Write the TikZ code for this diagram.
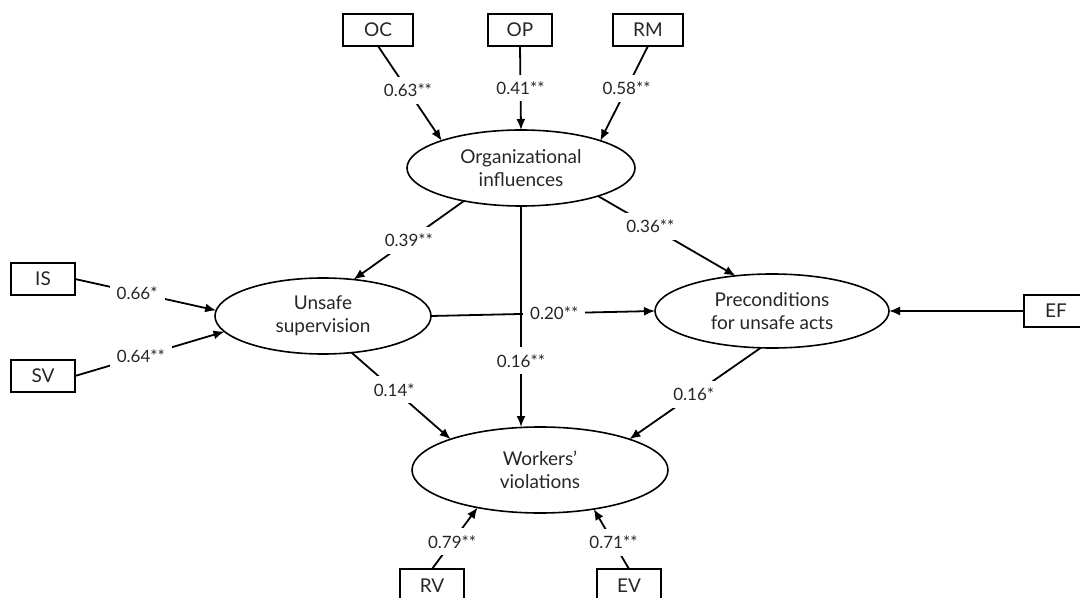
\documentclass[tikz,border=0pt]{standalone}
\usepackage{fontspec}
\setmainfont{Lato}
\usetikzlibrary{shapes.geometric,arrows.meta}

\tikzset{
    box/.style={draw, line width=0.8pt, minimum width=32pt, minimum height=16pt, inner sep=0pt, outer sep=0pt, font=\fontsize{9.5}{12}\selectfont},
    latent/.style={draw, ellipse, line width=0.8pt, inner sep=0pt, outer sep=0pt, align=center, font=\fontsize{9.5}{11.5}\selectfont},
    lbl/.style={fill=white, inner sep=3.5pt, font=\fontsize{8.5}{10}\selectfont},
    path/.style={line width=0.9pt, -{Latex[length=5.5pt, width=4.5pt]}}
}

\begin{document}
\begin{tikzpicture}[x=0.5pt, y=-0.5pt, text=black!85]
        \useasboundingbox (0,0) rectangle (1080,598);

        % Latent factors
        \node[latent, minimum width=114pt, minimum height=38pt] (O) at (521,168) {Organizational\\influences};
        \node[latent, minimum width=108pt, minimum height=38pt] (U) at (323,316) {Unsafe\\supervision};
        \node[latent, minimum width=117pt, minimum height=37pt] (P) at (772,311) {Preconditions\\for unsafe acts};
        \node[latent, minimum width=128pt, minimum height=43pt] (W) at (540,470) {Workers'\\violations};

        % Observed indicators
        \node[box, minimum width=35pt] (OC) at (378,30) {OC};
        \node[box] (OP) at (520,30) {OP};
        \node[box, minimum width=35pt] (RM) at (648,30) {RM};
        \node[box] (IS) at (43,279) {IS};
        \node[box] (SV) at (43,376) {SV};
        \node[box] (EF) at (1056,311) {EF};
        \node[box, minimum height=17pt] (RV) at (432,586) {RV};
        \node[box, minimum height=17pt] (EV) at (629,586) {EV};

        % Indicator loadings
        \draw[path] (OC.south) -- node[lbl, pos=0.47] {0.63**} (O.161);
        \draw[path] (OP.south) -- node[lbl, pos=0.5] {0.41**} (O.north);
        \draw[path] (RM.south) -- node[lbl, pos=0.45] {0.58**} (O.19);
        \draw[path] (IS.east) -- node[lbl, pos=0.44] {0.66*} (U.177);
        \draw[path] (SV.east) -- node[lbl, pos=0.44] {0.64**} (U.189);
        \draw[path] (EF.west) -- (P.east);
        \draw[path] (RV.north) -- node[lbl, pos=0.44] {0.79**} (W.211);
        \draw[path] (EV.north) -- node[lbl, pos=0.44] {0.71**} (W.324);

        % Structural paths
        \draw[path] (O.210) -- node[lbl, pos=0.5] {0.39**} (U.50);
        \draw[path] (O.340) -- node[lbl, pos=0.38] {0.36**} (P.136);
        \draw[path] (U.east) -- node[lbl, pos=0.55] {0.20**} (P.west);
        \draw[path] (O.south) -- node[lbl, pos=0.7] {0.16**} (O.south |- W.north);
        \draw[path] (U.308) -- node[lbl, pos=0.43] {0.14*} (W.161);
        \draw[path] (P.253) -- node[lbl, pos=0.51] {0.16*} (W.19);
    \end{tikzpicture}
\end{document}
